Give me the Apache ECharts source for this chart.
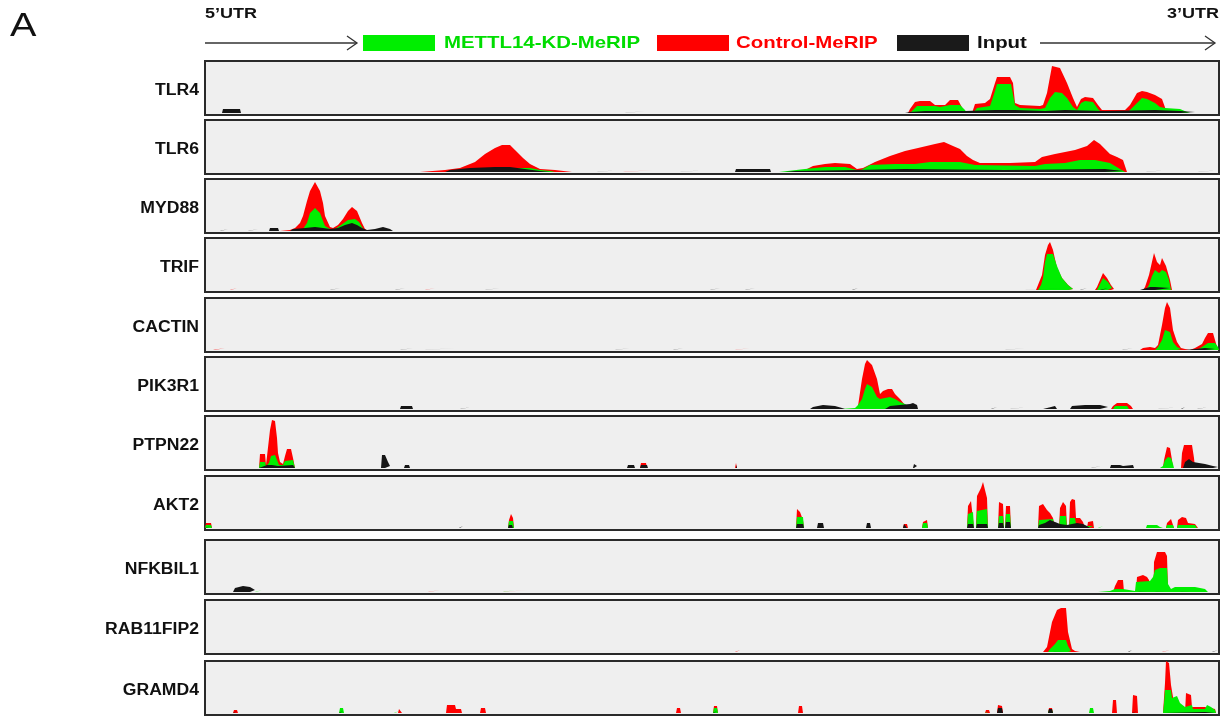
<!DOCTYPE html>
<html>
<head>
<meta charset="utf-8">
<title>m6A MeRIP coverage tracks</title>
<script src="https://cdn.jsdelivr.net/npm/echarts@6/dist/echarts.min.js"></script>
<style>
  html, body { margin: 0; padding: 0; background: #fff; }
  #chart { width: 1222px; height: 719px; }
</style>
</head>
<body>
<div id="chart"></div>
<script>
// ============================================================
// Coverage tracks: METTL14-KD-MeRIP / Control-MeRIP / Input
// x = relative position along transcript (0..1014, 5'UTR -> 3'UTR)
// y = read coverage (track units)
// ============================================================

var GENES = ['TLR4', 'TLR6', 'MYD88', 'TRIF', 'CACTIN', 'PIK3R1', 'PTPN22', 'AKT2', 'NFKBIL1', 'RAB11FIP2', 'GRAMD4'];
var SERIES_NAMES = ['Control-MeRIP', 'METTL14-KD-MeRIP', 'Input'];
var COLORS = { control: '#ff0000', kd: '#00ee00', input: '#151515' };

// ---------- TLR4 ----------
var tlr4Control = [[703,0],[705,4],[710,11],[715,12],[725,12],[730,8],[740,8],[745,13],[753,13],[760,0],[767,0],[770,9],[780,10],[785,14],[790,30],[792,36],[805,36],[808,30],[810,10],[815,8],[835,7],[838,8],[842,20],[847,47],[855,45],[862,30],[868,15],[872,6],[876,14],[880,16],[888,15],[893,8],[897,3],[920,3],[925,8],[932,20],[937,22],[942,21],[950,18],[957,14],[962,0]];
var tlr4Kd = [[705,0],[708,3],[712,7],[730,7],[735,6],[745,8],[755,8],[760,3],[762,0],[768,0],[772,5],[785,7],[790,22],[792,29],[806,29],[810,8],[815,5],[835,4],[840,5],[845,15],[850,21],[857,20],[862,15],[868,6],[872,3],[876,10],[880,12],[888,11],[893,4],[897,0],[923,1],[930,8],[937,15],[942,14],[950,10],[955,6],[960,5],[975,4],[982,1],[985,0]];
var tlr4Input = [[17,0],[18,4],[35,4],[36,0],[420,0],[421,2],[440,2],[441,0],[700,0],[705,1],[720,2],[760,2],[790,3],[810,3],[840,2],[860,3],[900,2],[950,3],[975,2],[990,1],[992,0]];

// ---------- TLR6 ----------
var tlr6Control = [[215,0],[217,2],[240,2],[255,4],[270,10],[280,18],[290,24],[297,27],[305,27],[310,22],[318,14],[325,8],[335,3],[350,2],[367,0],[418,0],[420,2],[448,2],[449,0],[595,0],[600,2],[608,6],[620,8],[630,9],[645,8],[652,3],[654,1],[658,4],[670,10],[685,16],[700,21],[713,24],[730,28],[739,30],[748,26],[755,23],[762,16],[768,12],[775,9],[805,9],[830,10],[837,15],[850,18],[870,22],[882,26],[889,32],[895,28],[905,18],[912,15],[918,12],[922,0]];
var tlr6Kd = [[250,0],[260,3],[300,3],[310,4],[325,4],[335,2],[345,1],[350,0],[574,0],[576,2],[600,3],[620,5],[640,5],[652,2],[656,2],[665,7],[690,8],[710,8],[725,10],[755,10],[770,7],[830,6],[840,8],[860,9],[875,12],[890,12],[905,9],[915,3],[920,0]];
var tlr6Input = [[240,0],[245,2],[265,4],[290,5],[305,5],[320,3],[335,1],[345,0],[392,0],[393,2],[413,2],[414,0],[475,0],[476,2],[500,2],[501,0],[530,0],[531,3],[565,3],[566,0],[580,0],[590,1],[650,2],[700,3],[800,2],[900,3],[918,1],[920,0],[941,0],[942,2],[961,2],[962,0],[993,0],[994,2],[1014,2]];

// ---------- MYD88 ----------
var myd88Control = [[75,0],[76,1],[85,1],[90,3],[95,8],[98,15],[102,30],[105,40],[110,49],[115,40],[118,28],[120,15],[125,4],[128,3],[133,6],[138,12],[143,20],[147,24],[152,20],[157,8],[160,2],[163,0]];
var myd88Kd = [[97,0],[100,5],[102,8],[105,18],[110,23],[115,18],[118,10],[120,5],[125,2],[130,2],[136,6],[143,11],[150,12],[154,9],[157,4],[160,0]];
var myd88Input = [[15,0],[16,2],[23,2],[24,0],[43,0],[44,2],[53,2],[54,0],[64,0],[65,3],[73,3],[74,0],[85,0],[88,2],[100,3],[110,4],[118,3],[125,2],[133,3],[140,6],[147,8],[152,6],[157,3],[162,1],[170,2],[178,4],[185,2],[188,0]];

// ---------- TRIF ----------
var trifControl = [[25,0],[26,2],[32,2],[33,0],[220,0],[221,2],[230,2],[231,0],[831,0],[833,2],[837,15],[840,35],[843,45],[845,48],[848,40],[852,22],[857,12],[863,5],[868,1],[870,0],[890,0],[892,3],[895,10],[898,17],[902,12],[906,5],[909,1],[910,0],[917,0],[918,2],[920,0],[938,0],[940,3],[944,15],[949,37],[952,28],[955,25],[957,32],[961,24],[965,10],[967,0]];
var trifKd = [[833,0],[836,5],[838,12],[840,28],[842,36],[848,36],[852,24],[857,12],[863,5],[868,1],[869,0],[892,0],[894,4],[898,12],[903,8],[907,2],[908,0],[941,0],[944,5],[947,14],[950,20],[954,17],[957,20],[961,18],[964,10],[966,0]];
var trifInput = [[125,0],[126,2],[135,2],[136,0],[190,0],[191,2],[200,2],[201,0],[280,0],[281,2],[295,2],[296,0],[505,0],[506,2],[515,2],[516,0],[540,0],[541,2],[550,2],[551,0],[647,0],[648,2],[653,2],[654,0],[820,0],[821,2],[865,2],[866,0],[875,0],[876,2],[882,2],[883,0],[895,0],[897,2],[903,2],[905,0],[935,0],[936,2],[945,3],[950,3],[965,2],[966,0]];

// ---------- CACTIN ----------
var cactinControl = [[8,0],[10,2],[20,2],[22,0],[530,0],[531,2],[545,2],[546,0],[935,0],[938,2],[945,3],[950,2],[953,5],[957,25],[960,42],[962,48],[965,42],[968,20],[972,8],[976,2],[980,1],[985,0],[990,2],[997,6],[1000,12],[1003,17],[1008,17],[1010,10],[1012,3],[1014,0]];
var cactinKd = [[950,0],[953,3],[957,10],[960,20],[962,22],[965,18],[968,8],[972,3],[976,1],[978,0],[992,0],[997,3],[1003,7],[1010,7],[1013,3],[1014,2]];
var cactinInput = [[195,0],[196,2],[208,2],[209,0],[220,0],[221,2],[250,2],[251,0],[410,0],[411,2],[425,2],[426,0],[468,0],[469,2],[478,2],[479,0],[800,0],[801,2],[820,2],[821,0],[917,0],[918,2],[928,2],[929,0],[980,0],[982,2],[1000,2],[1010,1]];

// ---------- PIK3R1 ----------
var pik3r1Control = [[650,0],[653,3],[657,30],[660,45],[662,49],[667,44],[672,30],[675,15],[678,18],[683,20],[687,20],[690,15],[695,10],[700,4],[703,2],[705,0],[906,0],[908,3],[912,6],[922,6],[926,3],[928,0]];
var pik3r1Kd = [[636,0],[637,1],[650,1],[653,4],[657,10],[660,20],[662,25],[667,22],[672,12],[675,10],[680,11],[685,12],[690,10],[695,7],[700,5],[705,2],[708,0],[908,0],[910,3],[922,3],[924,0]];
var pik3r1Input = [[195,0],[196,3],[207,3],[208,0],[255,0],[256,2],[266,2],[267,0],[605,0],[608,2],[618,4],[630,3],[637,1],[640,0],[680,0],[685,3],[695,4],[705,5],[708,6],[712,4],[713,0],[786,0],[787,2],[792,2],[793,0],[805,0],[806,2],[822,2],[823,0],[838,0],[839,2],[850,3],[852,0],[865,0],[867,3],[880,4],[895,4],[903,2],[904,0],[953,0],[954,2],[974,2],[975,0],[976,0],[977,2],[980,2],[981,0],[992,0],[993,2],[1003,2],[1004,0]];

// ---------- PTPN22 ----------
var ptpn22Control = [[54,0],[55,14],[60,14],[61,3],[63,4],[65,38],[67,48],[70,47],[72,30],[73,15],[75,6],[78,4],[80,12],[82,19],[86,19],[88,10],[90,0],[435,0],[436,5],[441,5],[442,0],[530,0],[531,5],[532,0],[958,0],[959,8],[962,21],[965,20],[967,8],[968,0],[976,0],[977,15],[979,23],[987,23],[989,10],[990,0]];
var ptpn22Kd = [[54,0],[55,6],[60,6],[61,2],[64,5],[66,12],[70,13],[72,8],[74,3],[78,3],[80,7],[88,8],[90,0],[955,0],[956,1],[958,2],[960,8],[963,11],[966,10],[968,4],[969,0]];
var ptpn22Input = [[54,0],[55,2],[62,3],[64,4],[67,3],[73,2],[88,3],[90,0],[176,0],[177,13],[180,13],[183,6],[185,2],[186,0],[199,0],[200,3],[204,3],[205,0],[264,0],[265,2],[266,0],[422,0],[423,3],[429,3],[430,0],[435,0],[436,3],[442,3],[443,0],[531,0],[531.5,3],[532,0],[708,0],[709,4],[712,2],[713,0],[886,0],[887,2],[896,2],[897,0],[905,0],[906,3],[915,3],[918,2],[928,3],[929,0],[978,0],[980,6],[984,9],[988,6],[990,4],[1000,4],[1008,2],[1013,1]];

// ---------- AKT2 ----------
var akt2Control = [[0,0],[1,5],[6,5],[7,0],[303,0],[304,8],[306,14],[308,10],[309,0],[591,0],[592,19],[595,16],[598,8],[599,0],[698,0],[699,4],[702,4],[703,0],[717,0],[718,6],[720,8],[722,8],[723,0],[762,0],[763,22],[766,27],[768,26],[769,0],[771,0],[772,32],[776,40],[778,46],[780,38],[782,30],[783,0],[793,0],[794,26],[798,24],[799,0],[800,0],[801,22],[805,22],[806,0],[833,0],[834,22],[838,24],[842,18],[845,15],[848,10],[850,0],[854,0],[855,20],[858,26],[861,22],[862,0],[864,0],[865,26],[867,29],[870,28],[871,10],[875,10],[878,6],[880,0],[882,0],[883,6],[888,7],[889,0],[961,0],[962,5],[966,9],[968,3],[969,0],[972,0],[973,8],[977,11],[981,10],[983,5],[990,4],[992,2],[993,0]];
var akt2Kd = [[0,0],[1,3],[6,3],[7,0],[303,0],[304,7],[308,7],[309,0],[591,0],[592,11],[598,11],[599,0],[717,0],[718,5],[722,5],[723,0],[762,0],[763,14],[768,16],[769,0],[771,0],[772,17],[782,19],[783,0],[793,0],[794,12],[798,12],[799,0],[800,0],[801,14],[805,14],[806,0],[833,0],[834,8],[848,9],[850,0],[854,0],[855,12],[861,12],[862,0],[864,0],[865,10],[870,10],[871,4],[880,2],[883,2],[888,2],[889,0],[893,0],[894,2],[898,2],[899,0],[921,0],[922,2],[924,0],[941,0],[942,3],[952,3],[955,1],[958,0],[961,0],[962,3],[968,3],[969,0],[972,0],[973,3],[990,3],[992,0]];
var akt2Input = [[0,0],[1,2],[6,2],[7,0],[254,0],[255,2],[258,2],[259,0],[303,0],[304,3],[307,3],[308,0],[591,0],[592,4],[598,4],[599,0],[612,0],[613,5],[618,5],[619,0],[661,0],[662,5],[665,5],[666,0],[698,0],[699,4],[701,4],[702,0],[762,0],[763,4],[768,4],[769,0],[771,0],[772,4],[782,4],[783,0],[793,0],[794,5],[798,5],[799,0],[800,0],[801,6],[805,6],[806,0],[833,0],[834,3],[840,5],[845,8],[850,6],[855,4],[862,3],[867,4],[872,5],[878,4],[882,2],[885,0]];

// ---------- NFKBIL1 ----------
var nfkbil1Control = [[223,0],[224,2],[235,2],[236,0],[298,0],[299,2],[323,2],[324,0],[908,0],[910,6],[913,12],[918,12],[919,0],[931,0],[932,15],[938,17],[942,15],[944,12],[946,12],[948,0],[948.5,0],[949,30],[952,40],[960,40],[962,36],[963,2],[964,0]];
var nfkbil1Kd = [[50,0],[51,2],[57,2],[58,0],[298,0],[299,2],[310,2],[311,0],[893,0],[895,1],[905,1],[910,3],[918,3],[919,1],[930,1],[931,10],[945,11],[947,12],[948,15],[950,22],[955,24],[962,24],[963,8],[966,3],[970,5],[990,5],[1000,3],[1003,0]];
var nfkbil1Input = [[28,0],[30,4],[38,6],[45,5],[50,2],[51,0],[905,0],[906,1],[918,1],[919,0],[933,0],[934,1],[942,1],[943,0],[950,0],[951,1],[960,1],[961,0],[975,0],[976,1],[985,1],[986,0]];

// ---------- RAB11FIP2 ----------
var rab11fip2Control = [[530,0],[531,2],[535,2],[536,0],[838,0],[842,5],[847,30],[852,42],[856,44],[861,44],[863,20],[867,3],[870,1],[875,0],[957,0],[958,2],[965,2],[966,0]];
var rab11fip2Kd = [[843,0],[845,3],[850,8],[853,12],[861,12],[863,6],[866,1],[868,0]];
var rab11fip2Input = [[848,0],[849,1],[860,1],[861,0],[907,0],[908,2],[910,2],[911,0],[923,0],[924,2],[927,2],[928,0],[1007,0],[1008,2],[1013,2]];

// ---------- GRAMD4 ----------
var gramd4Control = [[28,0],[29,3],[32,3],[33,0],[138,0],[139,2],[140,0],[193,0],[194,4],[196,4],[197,0],[241,0],[242,8],[250,8],[251,4],[256,4],[257,0],[275,0],[276,5],[280,5],[281,0],[464,0],[465,2],[467,2],[468,0],[471,0],[472,5],[475,5],[476,0],[508,0],[509,7],[512,7],[513,0],[530,0],[531,2],[532,0],[593,0],[594,7],[597,7],[598,0],[780,0],[781,3],[784,3],[785,0],[792,0],[793,8],[797,7],[798,0],[843,0],[844,5],[847,5],[848,0],[907,0],[908,13],[911,13],[912,0],[927,0],[928,18],[932,17],[933,0],[951,0],[952,2],[953,0],[958,0],[960,30],[961,52],[964,50],[966,28],[969,10],[970,0],[980,0],[981,20],[986,18],[987,6],[1000,6],[1001,4],[1010,4],[1011,0]];
var gramd4Kd = [[134,0],[135,5],[138,5],[139,0],[189,0],[190,2],[194,2],[195,0],[351,0],[352,2],[353,0],[508,0],[509,5],[512,5],[513,0],[780,0],[781,2],[784,2],[785,0],[843,0],[844,3],[847,3],[848,0],[884,0],[885,5],[888,5],[889,0],[958,0],[959,10],[960,23],[966,23],[967,15],[972,17],[975,10],[980,6],[981,8],[987,8],[988,4],[1000,4],[1002,8],[1006,6],[1010,3],[1011,0]];
var gramd4Input = [[28,0],[29,2],[32,2],[33,0],[134,0],[135,2],[138,2],[139,0],[211,0],[212,2],[214,2],[215,0],[508,0],[509,2],[512,2],[513,0],[684,0],[685,2],[687,2],[688,0],[715,0],[716,2],[717,0],[792,0],[793,5],[797,5],[798,0],[843,0],[844,4],[847,4],[848,0],[927,0],[928,2],[932,2],[933,0],[950,0],[951,2],[953,2],[954,0],[958,0],[960,2],[1000,1],[1010,0]];

var CONTROL_TRACKS = [tlr4Control, tlr6Control, myd88Control, trifControl, cactinControl, pik3r1Control, ptpn22Control, akt2Control, nfkbil1Control, rab11fip2Control, gramd4Control];
var KD_TRACKS = [tlr4Kd, tlr6Kd, myd88Kd, trifKd, cactinKd, pik3r1Kd, ptpn22Kd, akt2Kd, nfkbil1Kd, rab11fip2Kd, gramd4Kd];
var INPUT_TRACKS = [tlr4Input, tlr6Input, myd88Input, trifInput, cactinInput, pik3r1Input, ptpn22Input, akt2Input, nfkbil1Input, rab11fip2Input, gramd4Input];

// ============================================================
// layout
// ============================================================

var PANEL_LEFT = 205;
var PANEL_WIDTH = 1014;
var PANEL_HEIGHT = 54;
var PANEL_TOPS = [61, 120, 179, 238, 298, 357, 416, 476, 540, 600, 661];
var FONT_FAMILY = '"Liberation Sans", Arial, sans-serif';
var HEADER_STRETCH = 1.2; // source figure text is slightly stretched horizontally
var LABEL_STRETCH = 1.1;

// break the area wherever coverage stays at zero, so empty stretches draw nothing
function withGaps(track) {
  var out = [];
  track.forEach(function(p, k) {
    var prev = track[k - 1];
    if (prev && prev[1] === 0 && p[1] === 0) {
      out.push([(prev[0] + p[0]) / 2, '-']);
    }
    out.push(p);
  });
  return out;
}

function areaSeries(name, data, color, idx) {
  return {
    name: name,
    type: 'line',
    xAxisIndex: idx,
    yAxisIndex: idx,
    data: withGaps(data),
    connectNulls: false,
    showSymbol: false,
    symbol: 'none',
    silent: true,
    lineStyle: { width: 0, opacity: 0 },
    areaStyle: { color: color, opacity: 1 },
  };
}

function stretchedText(x, y, text, font, fill, align, stretch) {
  return {
    type: 'text', x: x, y: y, scaleX: stretch,
    style: { text: text, font: font, fill: fill, align: align || 'left', verticalAlign: 'middle' },
  };
}

function buildOption() {
  var grids = [], xAxes = [], yAxes = [], series = [], graphics = [];

  GENES.forEach(function(gene, i) {
    grids.push({
      left: PANEL_LEFT, top: PANEL_TOPS[i], width: PANEL_WIDTH, height: PANEL_HEIGHT,
      show: true, backgroundColor: '#efefef', borderColor: '#2a2a2a', borderWidth: 2,
    });
    xAxes.push({ gridIndex: i, type: 'value', min: 0, max: 1014, show: false });
    yAxes.push({ gridIndex: i, type: 'value', min: -2, max: 52, show: false });
    series.push(areaSeries(SERIES_NAMES[0], CONTROL_TRACKS[i], COLORS.control, i));
    series.push(areaSeries(SERIES_NAMES[1], KD_TRACKS[i], COLORS.kd, i));
    series.push(areaSeries(SERIES_NAMES[2], INPUT_TRACKS[i], COLORS.input, i));
    graphics.push(stretchedText(199, PANEL_TOPS[i] + 30, gene, 'bold 16px ' + FONT_FAMILY, '#111', 'right', LABEL_STRETCH));
  });

  // header: panel letter, UTR marks, arrows and legend
  graphics.push(stretchedText(10, 27, 'A', '33px ' + FONT_FAMILY, '#111', 'left', 1.2));
  graphics.push(stretchedText(205, 14, '5\u2019UTR', 'bold 15px ' + FONT_FAMILY, '#111', 'left', HEADER_STRETCH));
  graphics.push(stretchedText(1219, 14, '3\u2019UTR', 'bold 15px ' + FONT_FAMILY, '#111', 'right', HEADER_STRETCH));

  var arrowStyle = { stroke: '#333', lineWidth: 1.3, fill: null };
  graphics.push({ type: 'polyline', shape: { points: [[205, 43], [357, 43]] }, style: arrowStyle });
  graphics.push({ type: 'polyline', shape: { points: [[347, 36], [357, 43], [347, 50]] }, style: arrowStyle });
  graphics.push({ type: 'polyline', shape: { points: [[1040, 43], [1215, 43]] }, style: arrowStyle });
  graphics.push({ type: 'polyline', shape: { points: [[1205, 36], [1215, 43], [1205, 50]] }, style: arrowStyle });

  var legendItems = [
    { x: 363, textX: 444, text: SERIES_NAMES[1], color: COLORS.kd, textColor: '#00dd00' },
    { x: 657, textX: 736, text: SERIES_NAMES[0], color: COLORS.control, textColor: '#ff0000' },
    { x: 897, textX: 977, text: SERIES_NAMES[2], color: '#1a1a1a', textColor: '#111' },
  ];
  legendItems.forEach(function(item) {
    graphics.push({ type: 'rect', shape: { x: item.x, y: 35, width: 72, height: 16 }, style: { fill: item.color } });
    graphics.push(stretchedText(item.textX, 43, item.text, 'bold 17px ' + FONT_FAMILY, item.textColor, 'left', HEADER_STRETCH));
  });

  return {
    animation: false,
    backgroundColor: '#ffffff',
    grid: grids,
    xAxis: xAxes,
    yAxis: yAxes,
    series: series,
    graphic: graphics,
  };
}

var chart = echarts.init(document.getElementById('chart'), null, { renderer: 'canvas' });
chart.setOption(buildOption());
</script>
</body>
</html>
